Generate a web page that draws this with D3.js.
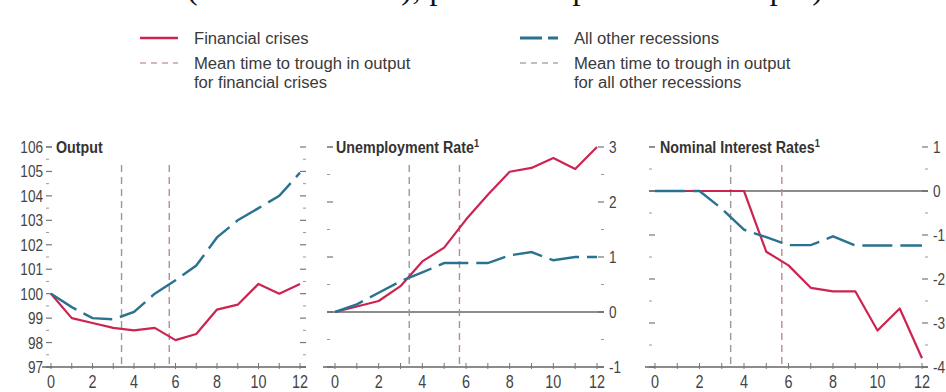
<!DOCTYPE html>
<html>
<head>
<meta charset="utf-8">
<script src="https://cdn.jsdelivr.net/npm/d3@7/dist/d3.min.js"></script>
<style>
body { margin: 0; background: #fff; }
svg text { font-family: 'Liberation Sans', Arial, sans-serif; fill: #444; }
</style>
</head>
<body>
<svg id="chart" width="946" height="392"></svg>
<script>
// quarters after the peak
var quarters = [0, 1, 2, 3, 4, 5, 6, 7, 8, 9, 10, 11, 12];
var xTickLabels = [0, 2, 4, 6, 8, 10, 12];

// output, index (peak = 100)
var outputFin   = [100, 99.0, 98.8, 98.6, 98.5, 98.6, 98.1, 98.35, 99.35, 99.55, 100.4, 100.0, 100.4];
var outputOther = [100, 99.45, 99.0, 98.95, 99.25, 100.0, 100.55, 101.15, 102.3, 103.0, 103.5, 104.0, 104.95];
// unemployment rate, change from peak
var unempFin    = [0, 0.1, 0.2, 0.47, 0.92, 1.17, 1.68, 2.13, 2.55, 2.62, 2.8, 2.6, 3.0];
var unempOther  = [0, 0.14, 0.35, 0.56, 0.72, 0.89, 0.89, 0.89, 1.03, 1.09, 0.94, 1.0, 1.0];
// nominal interest rates, change from peak
var rateFin     = [0, 0, 0, 0, 0, -1.38, -1.69, -2.2, -2.28, -2.28, -3.17, -2.67, -3.8];
var rateOther   = [0, 0, 0, -0.4, -0.88, -1.05, -1.23, -1.23, -1.03, -1.24, -1.24, -1.24, -1.24];

// mean time to trough in output (quarters)
var troughFin = 5.7, troughOther = 3.4;

var outputTicks = [97, 98, 99, 100, 101, 102, 103, 104, 105, 106];
var unempTicks  = [-1, 0, 1, 2, 3];
var rateTicks   = [-4, -3, -2, -1, 0, 1];

var red = "#cc2450", blue = "#2a7390";

var svg = d3.select("#chart");

// condensed look: squeeze text horizontally
function txt(g, x, y, size, sx, s) {
  return g.append("text")
    .attr("transform", "scale(" + sx + ",1)")
    .attr("x", x / sx).attr("y", y)
    .style("font-size", size + "px")
    .text(s);
}

// clipped subtitle line at the very top (only descenders show)
svg.append("text")
  .attr("x", 187).attr("y", -1)
  .attr("textLength", 636).attr("lengthAdjust", "spacing")
  .style("font-family", "'Liberation Serif', 'DejaVu Serif', serif")
  .style("font-size", "32px").style("fill", "#111")
  .text("(the mean index), percent of peak in the output)");

// legend
var legend = svg.append("g");
function legendItem(x, y, color, dash, width, lines) {
  legend.append("line")
    .attr("x1", x).attr("x2", x + 38).attr("y1", y).attr("y2", y)
    .attr("stroke", color).attr("stroke-width", width)
    .attr("stroke-dasharray", dash);
  lines.forEach(function (t, i) {
    txt(legend, x + 54, y + 6 + i * 19, 16, 1.04, t).style("fill", "#3a3a3a");
  });
}
legendItem(140, 38, red, null, 2.5, ["Financial crises"]);
legendItem(140, 63, "#c9a0a8", "6,5", 1.5, ["Mean time to trough in output", "for financial crises"]);
legendItem(520, 38, blue, "22,6", 3, ["All other recessions"]);
legendItem(520, 63, "#aaa", "6,5", 1.5, ["Mean time to trough in output", "for all other recessions"]);

function drawPanel(p) {
  var g = svg.append("g");
  var x = d3.scaleLinear().domain([0, 12]).range(p.xr);
  var y = d3.scaleLinear().domain(d3.extent(p.ticks)).range([367, 147]);
  var halves = [];
  p.ticks.forEach(function (t, i) { if (i < p.ticks.length - 1) halves.push(t + 0.5); });

  // y ticks on both sides
  [[p.left, 1], [p.right, -1]].forEach(function (s) {
    g.selectAll(null).data(p.ticks.slice(0, -1)).enter().append("line")
      .attr("x1", s[0]).attr("x2", s[0] + s[1] * 6)
      .attr("y1", function (d) { return y(d); }).attr("y2", function (d) { return y(d); })
      .attr("stroke", "#777").attr("stroke-width", 1.2);
    g.selectAll(null).data(halves).enter().append("line")
      .attr("x1", s[0]).attr("x2", s[0] + s[1] * 3)
      .attr("y1", function (d) { return y(d); }).attr("y2", function (d) { return y(d); })
      .attr("stroke", "#999").attr("stroke-width", 1);
  });
  // top ticks (the dash before the title and on the right)
  var top = y(p.ticks[p.ticks.length - 1]);
  g.append("line")
    .attr("x1", p.left).attr("x2", p.left + 6).attr("y1", top).attr("y2", top)
    .attr("stroke", "#555").attr("stroke-width", 1.3);
  g.append("line")
    .attr("x1", p.right).attr("x2", p.right - 6).attr("y1", top).attr("y2", top)
    .attr("stroke", "#777").attr("stroke-width", 1.2);

  // value labels
  p.ticks.forEach(function (d) {
    if (p.labelSide === "left") {
      txt(g, p.left - 3, y(d) + 6, 17, 0.8, d).attr("text-anchor", "end");
    } else {
      txt(g, p.right + 5, y(d) + 6, 17, 0.8, d);
    }
  });

  // zero line
  if (p.zero) {
    g.append("line")
      .attr("x1", p.left).attr("x2", p.right).attr("y1", y(0)).attr("y2", y(0))
      .attr("stroke", "#666").attr("stroke-width", 1.6);
  }

  // mean time to trough
  [[troughOther, "#999"], [troughFin, "#b98a93"]].forEach(function (m) {
    g.append("line")
      .attr("x1", x(m[0])).attr("x2", x(m[0])).attr("y1", 165).attr("y2", 367)
      .attr("stroke", m[1]).attr("stroke-width", 1.4).attr("stroke-dasharray", "7,5");
  });

  // bottom axis
  g.append("line")
    .attr("x1", p.left - 4).attr("x2", p.right).attr("y1", 367).attr("y2", 367)
    .attr("stroke", "#666").attr("stroke-width", 1.6);
  g.selectAll(null).data(quarters).enter().append("line")
    .attr("x1", function (d) { return x(d); }).attr("x2", function (d) { return x(d); })
    .attr("y1", 363).attr("y2", 369)
    .attr("stroke", "#777").attr("stroke-width", 1);
  xTickLabels.forEach(function (d) {
    txt(g, x(d), 388, 18, 0.8, d).attr("text-anchor", "middle");
  });

  var line = d3.line()
    .x(function (d, i) { return x(quarters[i]); })
    .y(function (d) { return y(d); });

  g.append("path").datum(p.fin)
    .attr("d", line).attr("fill", "none")
    .attr("stroke", red).attr("stroke-width", 2.2).attr("stroke-linejoin", "round");
  g.append("path").datum(p.other)
    .attr("d", line).attr("fill", "none")
    .attr("stroke", blue).attr("stroke-width", 2.4)
    .attr("stroke-dasharray", "30,8");

  // title
  var t = txt(g, p.titleX, 153, 17, 0.84, p.title)
    .style("font-weight", "bold").style("fill", "#333");
  if (p.sup) {
    t.append("tspan").attr("dy", -6).style("font-size", "11px").text("1");
  }
}

drawPanel({ title: "Output", sup: false, titleX: 56, xr: [51, 300], left: 46, right: 306,
  ticks: outputTicks, labelSide: "left", zero: false, fin: outputFin, other: outputOther });
drawPanel({ title: "Unemployment Rate", sup: true, titleX: 336, xr: [335, 597], left: 327, right: 604,
  ticks: unempTicks, labelSide: "right", zero: true, fin: unempFin, other: unempOther });
drawPanel({ title: "Nominal Interest Rates", sup: true, titleX: 660, xr: [655, 922], left: 649, right: 928,
  ticks: rateTicks, labelSide: "right", zero: true, fin: rateFin, other: rateOther });
</script>
</body>
</html>
